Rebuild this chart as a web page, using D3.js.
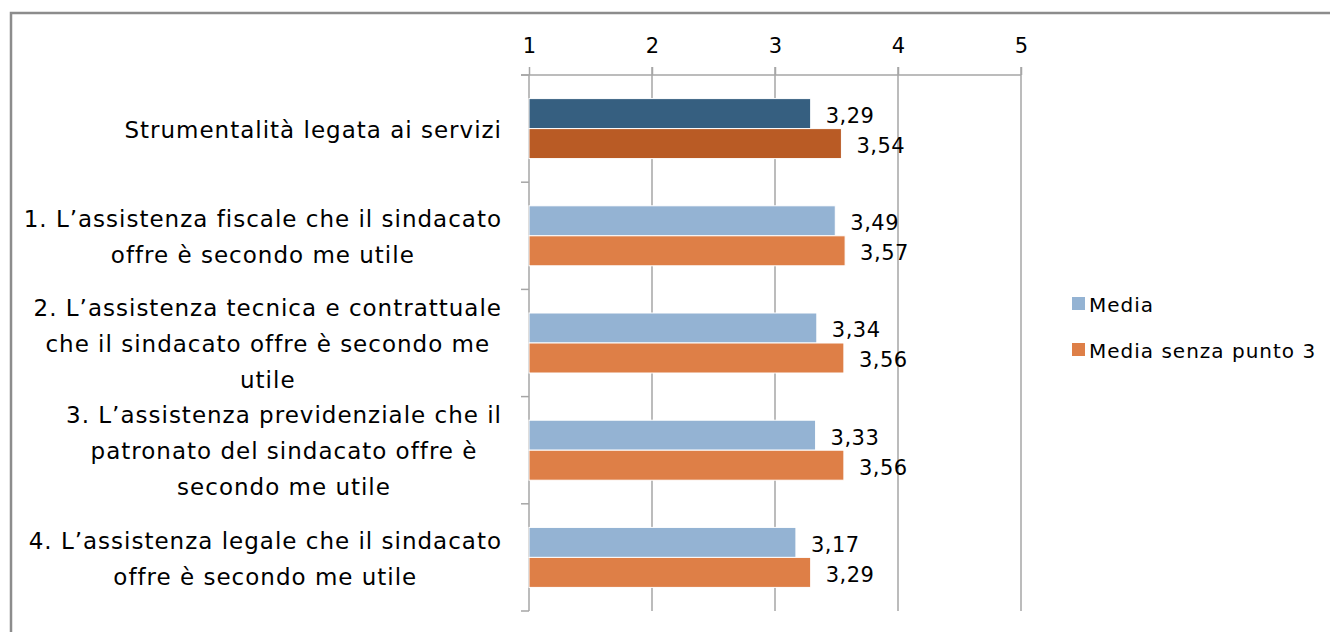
<!DOCTYPE html>
<html lang="it">
<head>
<meta charset="UTF-8">
<title>Strumentalità legata ai servizi</title>
<style>
    body { margin: 0; background: #fff; }
    svg { display: block; font-family: 'DejaVu Sans', sans-serif; }
    .grid line { stroke: #a6a6a6; stroke-width: 1.5; }
</style>
<script src="https://d3js.org/d3.v7.min.js"></script>
</head>
<body>
<svg id="chart" width="1330" height="632"></svg>
<script>
    // dati
    const categories = [
        ["Strumentalità legata ai servizi"],
        ["1. L’assistenza fiscale che il sindacato", "offre è secondo me utile"],
        ["2. L’assistenza tecnica e contrattuale", "che il sindacato offre è secondo me", "utile"],
        ["3. L’assistenza previdenziale che il", "patronato del sindacato offre è", "secondo me utile"],
        ["4. L’assistenza legale che il sindacato", "offre è secondo me utile"]
    ];
    const media = [3.29, 3.49, 3.34, 3.33, 3.17];
    const mediaSenza3 = [3.54, 3.57, 3.56, 3.56, 3.29];
    const xTicks = [1, 2, 3, 4, 5];
    const seriesNames = ["Media", "Media senza punto 3"];

    const svg = d3.select("#chart");
    const plotLeft = 529, plotRight = 1021, plotTop = 75, plotBottom = 611;
    const barH = 30;

    const x = d3.scaleLinear().domain([1, 5]).range([plotLeft, plotRight]);
    const y = d3.scaleBand().domain(d3.range(categories.length)).range([plotTop, plotBottom]);

    // cornice
    svg.append("rect")
        .attr("x", 11).attr("y", 13)
        .attr("width", 1360).attr("height", 660)
        .attr("fill", "none")
        .attr("stroke", "#8c8c8c")
        .attr("stroke-width", 2.5);

    // griglia verticale
    svg.append("g").attr("class", "grid")
        .selectAll("line")
        .data(xTicks.slice(1))
        .join("line")
        .attr("x1", d => x(d)).attr("x2", d => x(d))
        .attr("y1", plotTop - 8).attr("y2", plotBottom);

    // asse superiore
    const xAxis = svg.append("g")
        .attr("transform", `translate(0,${plotTop})`)
        .call(d3.axisTop(x).tickValues(xTicks).tickSize(8).tickPadding(14).tickFormat(d3.format("d")));
    xAxis.select(".domain").attr("stroke", "#a6a6a6").attr("stroke-width", 1.5)
        .attr("d", `M${plotLeft - 8},0H${plotRight}`);
    xAxis.selectAll(".tick line").attr("stroke", "#a6a6a6").attr("stroke-width", 1.5);
    xAxis.selectAll(".tick text").attr("font-size", 21).attr("fill", "#000")
        .attr("font-family", "'DejaVu Sans', sans-serif");

    // asse categorie
    svg.append("line")
        .attr("x1", plotLeft).attr("x2", plotLeft)
        .attr("y1", plotTop).attr("y2", plotBottom)
        .attr("stroke", "#a6a6a6").attr("stroke-width", 1.5);
    svg.append("g")
        .selectAll("line")
        .data(d3.range(categories.length + 1))
        .join("line")
        .attr("x1", plotLeft - 8).attr("x2", plotLeft)
        .attr("y1", i => plotTop + i * y.step()).attr("y2", i => plotTop + i * y.step())
        .attr("stroke", "#a6a6a6").attr("stroke-width", 1.5);

    // etichette categorie
    const lineH = 36;
    categories.forEach(function (lines, i) {
        const cy = y(i) + y.bandwidth() / 2;
        const t = svg.append("text")
            .attr("font-size", 23)
            .attr("letter-spacing", 1)
            .attr("fill", "#000")
            .attr("text-anchor", "middle");
        lines.forEach(function (line, j) {
            t.append("tspan")
                .attr("x", 0)
                .attr("y", cy + (j - (lines.length - 1) / 2) * lineH)
                .attr("dy", "0.4em")
                .text(line);
        });
        const w = d3.max(t.selectAll("tspan").nodes(), n => n.getComputedTextLength());
        t.selectAll("tspan").attr("x", 502 - w / 2);
    });

    // barre
    const colors = [
        ["#365f80", "#b95b25"],
        ["#94b3d3", "#de7f47"]
    ];
    [media, mediaSenza3].forEach(function (vals, s) {
        svg.append("g")
            .selectAll("rect")
            .data(vals)
            .join("rect")
            .attr("x", x(1))
            .attr("y", (d, i) => y(i) + y.bandwidth() / 2 - barH + s * barH)
            .attr("width", d => x(d) - x(1))
            .attr("height", barH)
            .attr("fill", (d, i) => colors[i === 0 ? 0 : 1][s])
            .attr("stroke", "#fff")
            .attr("stroke-width", 1);

        svg.append("g")
            .selectAll("text")
            .data(vals)
            .join("text")
            .attr("x", d => x(d) + 15)
            .attr("y", (d, i) => y(i) + y.bandwidth() / 2 - barH / 2 + s * barH)
            .attr("dy", "0.45em")
            .attr("font-size", 21)
            .attr("letter-spacing", 0.5)
            .attr("fill", "#000")
            .text(d => d3.format(".2f")(d).replace(".", ","));
    });

    // legenda
    const legend = svg.append("g");
    seriesNames.forEach(function (name, i) {
        const ly = 304 + i * 46;
        legend.append("rect")
            .attr("x", 1072).attr("y", ly - 7)
            .attr("width", 13).attr("height", 13)
            .attr("fill", colors[1][i]);
        legend.append("text")
            .attr("x", 1089).attr("y", ly)
            .attr("dy", "0.38em")
            .attr("font-size", 20)
            .attr("letter-spacing", 1)
            .attr("fill", "#000")
            .text(name);
    });
</script>
</body>
</html>
